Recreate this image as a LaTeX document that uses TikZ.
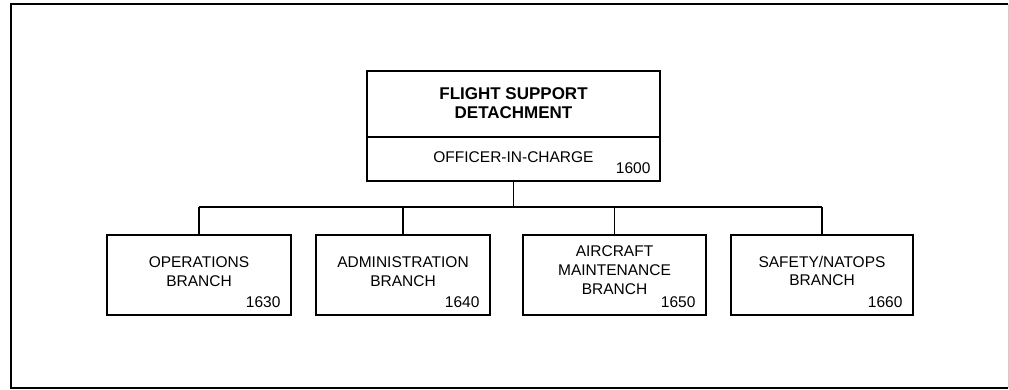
\documentclass[tikz,border=0pt]{standalone}
\usepackage{fontspec}
\setmainfont{Liberation Sans}
\tikzset{>=stealth}
\tikzset{
  unit/.style={draw, line width=1.3pt, inner sep=0pt},
  unit text/.style={align=center, inner sep=0pt, font=\fontsize{15.5}{18.8}\selectfont},
  code/.style={anchor=base east, inner sep=0pt, font=\fontsize{15.5}{18.8}\selectfont},
  link/.style={line width=1.2pt}
}

\begin{document}
\begin{tikzpicture}[x=1pt, y=-1pt]
\useasboundingbox (0,0) rectangle (1009,390);
% frame
\draw[line width=2.5pt] (1008,4) -- (11,4) -- (11,388) -- (1008,388);
\draw[gray!40, line width=1pt] (1008,4) -- (1008,388);
% head of the detachment
\node[unit, minimum width=293pt, minimum height=66pt] (fsd) at (513.5,104) {};
\node[unit, minimum width=293pt, minimum height=44pt] (oic) at (513.5,159) {};
\node[unit text, font=\fontsize{17}{19.5}\selectfont\bfseries] (fsdtext) at ([yshift=1pt]fsd.center) {FLIGHT SUPPORT\\DETACHMENT};
\node[unit text, anchor=base] (oictext) at ([yshift=-4pt]oic.center) {OFFICER-IN-CHARGE};
\node[code] (n1600) at ([xshift=-10pt, yshift=8pt]oic.south east) {1600};
% branches
\node[unit, minimum width=184pt, minimum height=80pt] (ops) at (199,275) {};
\node[unit, minimum width=174pt, minimum height=80pt] (adm) at (403,275) {};
\node[unit, minimum width=183pt, minimum height=80pt] (air) at (614.5,275) {};
\node[unit, minimum width=182pt, minimum height=80pt] (saf) at (822,275) {};
\node[unit text] (opstext) at ([yshift=3pt]ops.center) {OPERATIONS\\BRANCH};
\node[unit text] (admtext) at ([yshift=3pt]adm.center) {ADMINISTRATION\\BRANCH};
\node[unit text] (airtext) at ([yshift=5pt]air.center) {AIRCRAFT\\MAINTENANCE\\BRANCH};
\node[unit text] (saftext) at ([yshift=4pt]saf.center) {SAFETY/NATOPS\\BRANCH};
\node[code] (n1630) at ([xshift=-11pt, yshift=8pt]ops.south east) {1630};
\node[code] (n1640) at ([xshift=-11pt, yshift=8pt]adm.south east) {1640};
\node[code] (n1650) at ([xshift=-11pt, yshift=8pt]air.south east) {1650};
\node[code] (n1660) at ([xshift=-11pt, yshift=8pt]saf.south east) {1660};
% connectors
\coordinate (bus) at (513.5,207);
\draw[link] (oic.south) -- (bus);
\draw[link] (ops.north |- bus) -- (saf.north |- bus);
\draw[link] (ops.north |- bus) -- (ops.north);
\draw[link] (adm.north |- bus) -- (adm.north);
\draw[link] (air.north |- bus) -- (air.north);
\draw[link] (saf.north |- bus) -- (saf.north);
\end{tikzpicture}
\end{document}
